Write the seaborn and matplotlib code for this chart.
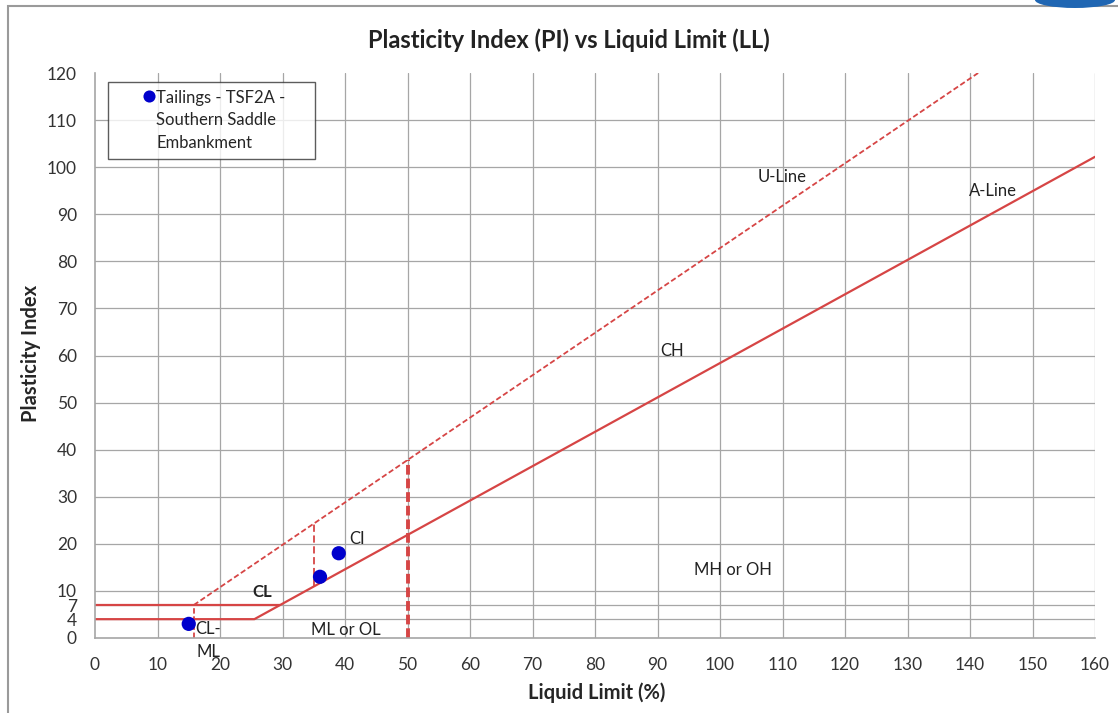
import matplotlib
matplotlib.use("Agg")
import matplotlib.pyplot as plt
import seaborn as sns
import pandas as pd
import numpy as np
from matplotlib.patches import Rectangle, Ellipse

# ---- data ----
sample_ll = [15, 36, 39]
sample_pi = [3, 13, 18]
series_name = "Tailings - TSF2A -\nSouthern Saddle\nEmbankment"

a_line_ll = [0, 25.5, 160]
a_line_pi = [4, 4, 102.2]
u_line_ll = [15.8, 141.3]
u_line_pi = [7, 120]
h7_ll = [0, 29.6]
h7_pi = [7, 7]
v16_ll = [15.8, 15.8]
v16_pi = [0, 7]
v35_ll = [35, 35]
v35_pi = [10.95, 24.3]
v50_ll = [50, 50]
v50_pi = [0, 37.8]

x_ticks = list(range(0, 161, 10))
y_ticks = [0, 4, 7] + list(range(10, 121, 10))

zone_labels = ["U-Line", "A-Line", "CH", "CI", "CL", "CL-", "ML", "ML or OL", "MH or OH"]
zone_x = [110, 143.7, 92.3, 40.6, 26.7, 16.0, 16.3, 40.2, 102]
zone_y = [98, 95, 61, 21, 9.8, 2.0, -3.0, 1.6, 14.4]

# ---- style ----
sns.set_style("white")
plt.rcParams['font.family'] = ['Lato', 'DejaVu Sans']

red = "#d64545"
grid_c = "#a6a6a6"

fig = plt.figure(figsize=(11.18, 7.13), dpi=100)
ax = fig.add_axes([95/1118, 1 - 638/713, 1000/1118, 565/713])

# frame around chart
fig.patches.append(Rectangle((8/1118, -0.05), 1.2, 1 - 6/713 + 0.05, transform=fig.transFigure,
                             fill=False, edgecolor="#9a9a9a", linewidth=1.5, zorder=0))
fig.patches.append(Ellipse((1075/1118, 1.0), 80/1118, 16/713, transform=fig.transFigure,
                           facecolor="#1f66b3", edgecolor="none", zorder=1))

ax.set_xlim(0, 160)
ax.set_ylim(0, 120)

# grid
for xv in x_ticks[1:]:
    ax.axvline(xv, color=grid_c, lw=0.9, zorder=0)
for yv in y_ticks[1:-1]:
    ax.axhline(yv, color=grid_c, lw=0.9, zorder=0)

# lines
ax.plot(a_line_ll, a_line_pi, color=red, lw=1.6, zorder=2)
ax.plot(h7_ll, h7_pi, color=red, lw=1.6, zorder=2)
ax.plot(u_line_ll, u_line_pi, color=red, lw=1.3, ls=(0, (3, 1.5)), zorder=2)
ax.plot(v16_ll, v16_pi, color=red, lw=1.3, ls=(0, (3, 1.5)), zorder=2)
ax.plot(v35_ll, v35_pi, color=red, lw=1.3, ls=(0, (4, 2)), zorder=2)
ax.plot(v50_ll, v50_pi, color=red, lw=2.8, ls=(0, (2.5, 1)), zorder=2)

df = pd.DataFrame({"LL": sample_ll, "PI": sample_pi, "Series": series_name})
sns.scatterplot(data=df, x="LL", y="PI", hue="Series", palette=["#0000cc"],
                s=105, edgecolor="#0000cc", linewidth=0, ax=ax, zorder=5)

for t, xx, yy in zip(zone_labels, zone_x, zone_y):
    weight = "bold" if t == "CL" else "normal"
    ha = "left" if t in ("CL-", "ML", "CI") else "center"
    ax.text(xx, yy, t, fontsize=12, ha=ha, va="center", fontweight=weight,
            color="#222222", zorder=6, clip_on=False)

# ticks
ax.set_xticks(x_ticks)
ax.set_yticks(y_ticks)
ax.set_xticks(np.arange(0, 161, 2), minor=True)
ax.set_yticks(np.arange(0, 121, 5), minor=True)
ax.tick_params(axis="both", which="major", labelsize=12.5, length=7, color=grid_c, labelcolor="#333333")
ax.tick_params(axis="both", which="minor", length=4, color=grid_c)
ax.tick_params(axis="x", which="both", direction="in", pad=14)
ax.tick_params(axis="y", which="both", direction="out", pad=6)

for s in ["top", "right"]:
    ax.spines[s].set_visible(False)
for s in ["left", "bottom"]:
    ax.spines[s].set_color(grid_c)
    ax.spines[s].set_linewidth(1.2)

ax.set_xlabel("Liquid Limit (%)", fontsize=14.5, fontweight="bold")
ax.set_ylabel("Plasticity Index", fontsize=14.5, fontweight="bold")
ax.xaxis.set_label_coords(0.5 + (597 - 595) / 1000, -(682 - 638) / 565)
ax.yaxis.set_label_coords(-(95 - 41) / 1000, (638 - 353) / 565)
fig.text(569/1118, 1 - 40/713, "Plasticity Index (PI) vs Liquid Limit (LL)",
         ha="center", va="center", fontsize=17, fontweight="bold", color="#222222")

leg = ax.legend(loc="upper left", bbox_to_anchor=(13/1000, (638 - 82)/565, 207/1000, 0.0),
                mode="expand", frameon=True, fancybox=False, fontsize=12,
                handletextpad=0.16, borderpad=0.45, borderaxespad=0.0,
                markerscale=0.85, title=None, handlelength=2.3)
leg.get_frame().set_edgecolor("#333333")
leg.get_frame().set_linewidth(1.0)
for txt in leg.get_texts():
    txt.set_linespacing(1.52)
# put the marker beside the first text line
for h in leg.legend_handles:
    yd = np.asarray(h.get_ydata(), dtype=float)
    xd = np.asarray(h.get_xdata(), dtype=float)
    h.set_ydata(yd + 18.0)
    h.set_xdata(xd + 10.5)

fig.savefig("out.png", dpi=100)
